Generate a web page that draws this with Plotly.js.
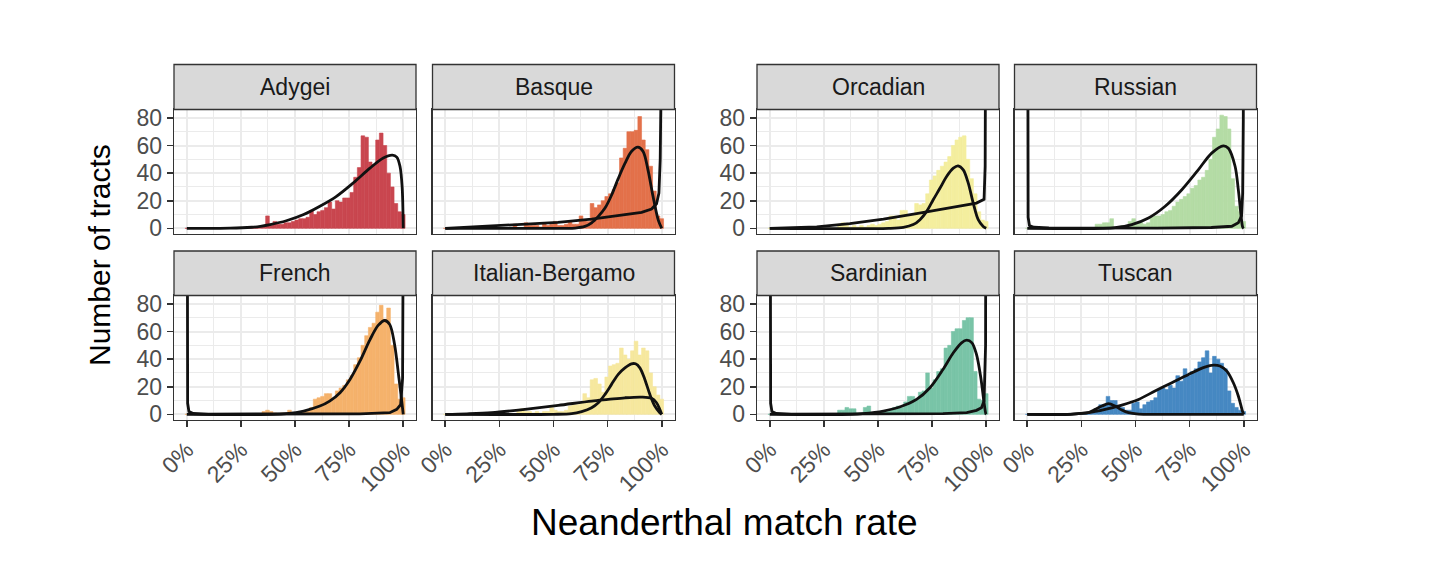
<!DOCTYPE html>
<html>
<head>
<meta charset="utf-8">
<script src="https://cdn.plot.ly/plotly-3.0.1.min.js"></script>
<style>
  html, body { margin: 0; padding: 0; background: #ffffff; }
  #chart { width: 1456px; height: 582px; }
</style>
</head>
<body>
<div id="chart"></div>
<script>
// Populations shown in the facets
const populations = ["Adygei", "Basque", "French", "Italian-Bergamo", "Orcadian", "Russian", "Sardinian", "Tuscan"];

// Histogram counts: 60 bins spanning 0%..100% (bin k centred at k/59)
const adygeiCounts = [0,0,0,0,0,0,0,0,0,0, 0,0,0,0,0,0,0,0,0,0,
  1,2,9,2,5,3,3,4,4,5, 6,7,7,8,13,10,12,13,15,19, 14,20,19,22,22,26,37,44,67,66, 48,46,64,69,60,40,30,18,12,10];
const basqueCounts = [0,0,0,0,0,0,0,0,0,0, 0,0,0,0,0,0,0,0,0,3,
  0,0,4,2,2,2,1,4,2,3, 5,2,2,3,5,3,3,9,6,5, 18,15,17,20,23,25,28,33,51,58, 70,70,71,81,64,57,45,27,9,7];
const frenchCounts = [0,0,0,0,0,0,0,0,0,0, 0,0,0,0,0,0,0,0,0,0,
  0,2,3,2,1,0,1,1,3,0, 1,1,2,3,5,11,12,13,15,15, 11,17,19,21,25,28,36,41,50,57, 63,66,74,79,69,77,50,22,11,12];
const italianCounts = [0,0,0,0,0,0,0,0,0,0, 0,0,0,0,0,0,0,0,0,0,
  2,4,2,2,1,2,1,2,2,5, 3,2,2,3,6,7,7,8,15,12, 25,26,22,16,27,35,36,37,48,43, 40,46,53,43,48,46,30,20,14,11];
const orcadianCounts = [0,0,0,0,0,0,0,0,0,0, 0,0,0,0,0,0,0,0,0,3,
  4,2,1,2,1,2,1,2,3,2, 3,4,5,9,9,6,13,13,10,10, 18,17,18,25,35,38,42,45,48,52, 60,64,66,67,50,36,25,12,6,5];
const russianCounts = [0,0,0,0,0,0,0,0,0,0, 0,0,0,0,0,0,0,0,0,3,
  3,4,4,7,1,1,2,1,5,7, 3,4,3,4,8,9,9,10,12,13, 16,19,21,23,25,29,31,35,37,42, 50,66,72,82,81,72,36,16,12,5];
const sardinianCounts = [0,0,0,0,0,0,0,0,0,0, 0,0,0,0,0,0,0,0,0,3,
  3,5,4,4,1,1,5,6,1,1, 1,2,2,3,5,6,5,9,13,13, 11,16,17,30,19,25,31,33,48,50, 60,62,62,68,70,70,31,11,10,15];
const tuscanCounts = [0,0,0,0,0,0,0,0,0,0, 0,0,0,0,0,0,0,0,1,3,
  7,7,13,10,10,6,5,3,3,8, 9,4,7,9,10,12,18,19,18,21, 19,28,24,33,28,31,33,38,41,46, 30,42,40,37,33,17,8,5,3,2];

// Fitted mixture components, read as (match rate %, tracts) pairs
const adygeiFitX = [0, 20, 30, 34, 38.5, 46, 54, 61.5, 69, 77, 84.6, 90.8, 95, 97, 98.5, 99.5, 100];
const adygeiFitY = [0, 0.1, 0.8, 1.5, 2.7, 5.5, 10, 16, 23, 33, 43.6, 51, 53, 51.6, 45, 30, 0];

const basqueHumpX = [0, 55, 60, 64.5, 67.6, 70.7, 73.8, 76.8, 79.9, 83, 86, 89, 91.4, 93.7, 96, 98.4, 100];
const basqueHumpY = [0, 0, 0.2, 1.4, 4, 8.7, 14.7, 24, 36, 47, 55.7, 58.8, 55.7, 42, 23, 6, 0];
const basqueRiseX = [0, 10, 21.5, 36.8, 52, 67.6, 83, 90.7, 95.3, 97.6, 98.7, 99.3, 99.6, 99.8];
const basqueRiseY = [0, 0.8, 1.4, 2.6, 4.3, 6.7, 10, 11.6, 14, 17.8, 25.5, 50, 90, 200];

const frenchHumpX = [0, 40, 46, 54, 61.5, 66, 70.8, 75.4, 80, 84.6, 88.5, 91.5, 93.8, 96, 98, 99.5, 100];
const frenchHumpY = [0, 0, 0.5, 2.4, 6, 9.6, 15.7, 25.3, 38.5, 54, 64.6, 68, 65, 50.6, 26.5, 7, 0];
const frenchEdgeX = [0, 0.15, 0.4, 1, 3, 10, 40, 80, 93.8, 97, 98.8, 99.7, 99.9, 100];
const frenchEdgeY = [400, 60, 8, 2, 0.6, 0.2, 0.1, 0.3, 1.2, 3.6, 7, 26, 100, 400];

const italianHumpX = [0, 50, 58.4, 63, 67.6, 70.7, 73.8, 76.8, 79.9, 83, 86, 87.9, 89.9, 92.2, 94.5, 96.8, 99.1, 100];
const italianHumpY = [0, 0, 0.5, 2, 4.8, 8.4, 14.5, 21.7, 29, 33.7, 36.6, 36.6, 33.7, 25.3, 14.5, 6, 1.2, 0];
const italianBroadX = [0, 10, 21.4, 36.8, 52.2, 67.6, 75.3, 83, 90.7, 95.3, 97.6, 99.1, 100];
const italianBroadY = [0, 0.4, 1.2, 3.6, 6.5, 9.6, 10.8, 12, 12.5, 11.6, 8.4, 3.6, 0];

const orcadianHumpX = [0, 55, 61.7, 66.3, 69.4, 72.5, 75.5, 78.6, 81.7, 84.8, 87, 89.4, 91.7, 94, 96.3, 98.6, 100];
const orcadianHumpY = [0, 0, 0.7, 2.7, 6.3, 12.3, 20.7, 29, 37.6, 43.6, 45.3, 42.4, 32.8, 18.3, 6.3, 1.4, 0];
const orcadianRiseX = [0, 10, 21.7, 37, 52.5, 67.8, 83, 95.5, 99, 99.5, 99.8];
const orcadianRiseY = [0, 0.4, 1, 3.4, 6.7, 10.6, 14.7, 18.3, 21, 45, 200];

const russianHumpX = [0, 35, 40.6, 48.3, 56, 63.7, 71.4, 79, 85.2, 90.6, 92.9, 96, 97.5, 98.8, 99.5, 100];
const russianHumpY = [0, 0, 0.5, 2.7, 7.5, 16, 28, 42.4, 54.5, 59.8, 58, 45, 28, 8.7, 1, 0];
const russianEdgeX = [0, 0.15, 0.4, 1, 3, 10, 30, 60, 85, 94.5, 97.5, 99, 99.5, 99.8, 100];
const russianEdgeY = [400, 60, 8, 2, 0.8, 0.4, 0.2, 0.2, 0.6, 1.5, 4, 9, 25, 80, 400];

const sardinianHumpX = [0, 38, 43, 52.5, 60, 67.8, 74, 80, 84.8, 88.6, 91, 93.4, 95.5, 97.5, 98.9, 99.8, 100];
const sardinianHumpY = [0, 0, 0.5, 2.4, 5.3, 10.8, 19.3, 32.5, 44.6, 51.8, 53.7, 51.8, 43.4, 26.5, 9.6, 0.5, 0];
const sardinianEdgeX = [0, 0.15, 0.4, 1, 3, 10, 40, 80, 91, 95.5, 97.8, 99, 99.7, 99.9, 100];
const sardinianEdgeY = [400, 60, 8, 2, 0.6, 0.2, 0.1, 0.5, 1.2, 2.9, 4.8, 9.6, 50, 150, 400];

const tuscanSmallX = [0, 20, 23.7, 28.3, 31.4, 34.5, 37.5, 40.6, 43.7, 46.8, 51.4, 60, 100];
const tuscanSmallY = [0, 0, 0.5, 1.2, 3.6, 6, 7.7, 6, 3.1, 1.2, 0.2, 0, 0];
const tuscanBigX = [0, 20.6, 28.3, 36, 43.7, 51.4, 59, 66.8, 74.5, 82, 86, 89, 92.2, 95.2, 97.5, 99.4, 100];
const tuscanBigY = [0, 0.2, 1.2, 3.6, 6.7, 10.8, 16.9, 22.9, 28.9, 34.2, 35.7, 35, 31.3, 22.9, 13.3, 2.4, 0];

// Axis labels
const xTickValues = [0, 25, 50, 75, 100];
const xTickLabels = ["0%", "25%", "50%", "75%", "100%"];
const yTickValues = [0, 20, 40, 60, 80];
const xTitle = "Neanderthal match rate";
const yTitle = "Number of tracts";

// ---- panel set-up ----
const binWidth = 100 / 59;
const W = 1456, H = 582;
const FONT = "Liberation Sans, Arial, Helvetica, sans-serif";
const colLeft = [174, 432.5, 757, 1014.5];
const panelW = 242;
const rows = [ {strip: [64.5, 109.5], panel: [109.5, 234]},
               {strip: [251, 295.5], panel: [295.5, 420]} ];

const panels = [
  {name: "Adygei",          col: 0, row: 0, color: "#C9464F", counts: adygeiCounts,
   fits: [[adygeiFitX, adygeiFitY, "spline"]]},
  {name: "Basque",          col: 1, row: 0, color: "#E3714A", counts: basqueCounts,
   fits: [[basqueHumpX, basqueHumpY, "spline"], [basqueRiseX, basqueRiseY, "linear"]]},
  {name: "French",          col: 0, row: 1, color: "#F5B26B", counts: frenchCounts,
   fits: [[frenchHumpX, frenchHumpY, "spline"], [frenchEdgeX, frenchEdgeY, "linear"]]},
  {name: "Italian-Bergamo", col: 1, row: 1, color: "#F6E89E", counts: italianCounts,
   fits: [[italianHumpX, italianHumpY, "spline"], [italianBroadX, italianBroadY, "spline"]]},
  {name: "Orcadian",        col: 2, row: 0, color: "#F4EE9E", counts: orcadianCounts,
   fits: [[orcadianHumpX, orcadianHumpY, "spline"], [orcadianRiseX, orcadianRiseY, "linear"]]},
  {name: "Russian",         col: 3, row: 0, color: "#B4DCA5", counts: russianCounts,
   fits: [[russianHumpX, russianHumpY, "spline"], [russianEdgeX, russianEdgeY, "linear"]]},
  {name: "Sardinian",       col: 2, row: 1, color: "#79C4A7", counts: sardinianCounts,
   fits: [[sardinianHumpX, sardinianHumpY, "spline"], [sardinianEdgeX, sardinianEdgeY, "linear"]]},
  {name: "Tuscan",          col: 3, row: 1, color: "#4688C2", counts: tuscanCounts,
   fits: [[tuscanSmallX, tuscanSmallY, "spline"], [tuscanBigX, tuscanBigY, "spline"]]}
];

const fx = px => px / W;
const fy = py => 1 - py / H;

const traces = [];
const layout = {
  width: W, height: H,
  margin: {l: 0, r: 0, t: 0, b: 0},
  paper_bgcolor: "#ffffff",
  plot_bgcolor: "#ffffff",
  showlegend: false,
  font: {family: FONT, color: "#4D4D4D"},
  shapes: [],
  annotations: []
};

panels.forEach((p, i) => {
  const n = i + 1;
  const xa = "x" + (n === 1 ? "" : n), ya = "y" + (n === 1 ? "" : n);
  const xKey = "xaxis" + (n === 1 ? "" : n), yKey = "yaxis" + (n === 1 ? "" : n);
  const x0 = colLeft[p.col], x1 = x0 + panelW;
  const r = rows[p.row];
  const bottomRow = p.row === 1;
  const leftCol = p.col === 0 || p.col === 2;

  traces.push({
    type: "bar", xaxis: xa, yaxis: ya,
    x: p.counts.map((_, k) => k * binWidth),
    y: p.counts,
    width: binWidth,
    marker: {color: p.color, line: {width: 0.6, color: p.color}},
    hoverinfo: "x+y"
  });
  p.fits.forEach(f => {
    traces.push({
      type: "scatter", mode: "lines", xaxis: xa, yaxis: ya,
      x: f[0], y: f[1],
      line: {color: "#111111", width: 2.8, shape: f[2], smoothing: 0.9},
      hoverinfo: "skip"
    });
  });

  layout[xKey] = {
    domain: [fx(x0), fx(x1)], anchor: ya,
    range: [-5.9, 105.9], fixedrange: true,
    tickmode: "array", tickvals: xTickValues, ticktext: xTickLabels,
    showticklabels: bottomRow, ticks: bottomRow ? "outside" : "",
    ticklen: 6, tickwidth: 1.6, tickcolor: "#333333",
    tickangle: -45,
    tickfont: {family: FONT, size: 23, color: "#4D4D4D"},
    showgrid: true, gridcolor: "#EBEBEB", gridwidth: 2,
    minor: {tickmode: "array", tickvals: [12.5, 37.5, 62.5, 87.5], showgrid: true, gridcolor: "#EBEBEB", gridwidth: 1, ticks: ""},
    zeroline: false,
    showline: true, mirror: true, linecolor: "#333333", linewidth: 1.3
  };
  layout[yKey] = {
    domain: [fy(r.panel[1]), fy(r.panel[0])], anchor: xa,
    range: [-4.1, 86.1], fixedrange: true,
    tickmode: "array", tickvals: yTickValues,
    showticklabels: leftCol, ticks: leftCol ? "outside" : "",
    ticklen: 6, tickwidth: 1.6, tickcolor: "#333333",
    tickfont: {family: FONT, size: 23, color: "#4D4D4D"},
    showgrid: true, gridcolor: "#EBEBEB", gridwidth: 2,
    minor: {tickmode: "array", tickvals: [10, 30, 50, 70], showgrid: true, gridcolor: "#EBEBEB", gridwidth: 1, ticks: ""},
    zeroline: false,
    showline: true, mirror: true, linecolor: "#333333", linewidth: 1.3
  };

  // facet strip
  layout.shapes.push({
    type: "rect", xref: "paper", yref: "paper", layer: "above",
    x0: fx(x0), x1: fx(x1), y0: fy(r.strip[1]), y1: fy(r.strip[0]),
    fillcolor: "#D9D9D9", line: {color: "#333333", width: 1.3}
  });
  layout.annotations.push({
    xref: "paper", yref: "paper", x: fx((x0 + x1) / 2), y: fy((r.strip[0] + r.strip[1]) / 2),
    xanchor: "center", yanchor: "middle", showarrow: false,
    text: p.name, font: {family: FONT, size: 23, color: "#1A1A1A"}
  });
});

// axis titles
layout.annotations.push({
  xref: "paper", yref: "paper", x: fx(724), y: fy(522),
  xanchor: "center", yanchor: "middle", showarrow: false,
  text: xTitle, font: {family: FONT, size: 37, color: "#000000"}
});
layout.annotations.push({
  xref: "paper", yref: "paper", x: fx(99), y: fy(255),
  xanchor: "center", yanchor: "middle", showarrow: false, textangle: -90,
  text: yTitle, font: {family: FONT, size: 30, color: "#000000"}
});

Plotly.newPlot("chart", traces, layout, {displayModeBar: false, staticPlot: true});
</script>
</body>
</html>
